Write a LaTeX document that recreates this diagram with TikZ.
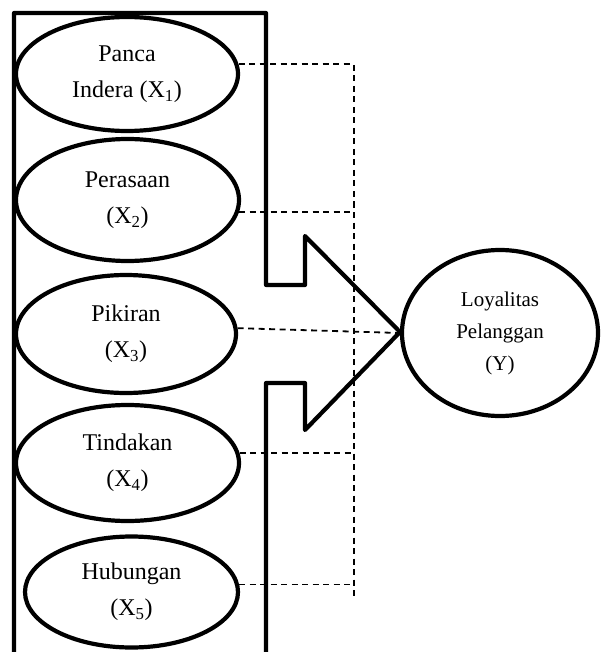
\documentclass[tikz,border=0pt]{standalone}
\usepackage{fontspec}
\setmainfont{Liberation Serif}
\usetikzlibrary{positioning,shapes.geometric}

\begin{document}
\begin{tikzpicture}[x=1pt, y=-1pt,
      v/.style={ellipse, draw, line width=4.2pt, inner sep=0pt, align=center,
        font=\fontsize{24}{36}\selectfont},
      dl/.style={line width=1.8pt, dash pattern=on 6pt off 4.5pt}]
      \useasboundingbox (0,0) rectangle (601,652);
      % big outline with the arrow
      \draw[line width=4.2pt, line join=round]
        (14,13) -- (266,13) -- (266,285) -- (305,285) -- (305,236)
        -- (400,332) coordinate (tip) -- (305,430) -- (305,383) -- (266,383)
        -- (266,670) -- (14,670) -- cycle;
      % dimensions
      \node[v, minimum width=222pt, minimum height=114pt] (x1) at (127,74) {Panca\\Indera (X\textsubscript{1})};
      \node[v, minimum width=223pt, minimum height=122pt] (x2) at (127.5,200) {Perasaan\\(X\textsubscript{2})};
      \node[v, minimum width=220pt, minimum height=118pt] (x3) at (126,334) {Pikiran\\(X\textsubscript{3})};
      \node[v, minimum width=223pt, minimum height=116pt] (x4) at (127.5,463) {Tindakan\\(X\textsubscript{4})};
      \node[v, minimum width=213pt, minimum height=111pt] (x5) at (131.5,592) {Hubungan\\(X\textsubscript{5})};
      \node[v, minimum width=196pt, minimum height=166pt, font=\fontsize{21}{32}\selectfont] (y) at (500,333) {Loyalitas\\Pelanggan\\(Y)};
      % dashed links
      \coordinate (vt) at (354,65);
      \coordinate (vb) at (354,597);
      \draw[dl] (vt) -- (vb);
      \draw[dl] (x1.5) -- (x1.5 -| vt);
      \draw[dl] (x2.-6) -- (x2.-6 -| vt);
      \draw[dl] (x3.3) -- (y.west);
      \draw[dl] (x4.5) -- (x4.5 -| vt);
      \draw[dl] (x5.4) -- (x5.4 -| vt);
    \end{tikzpicture}
\end{document}
